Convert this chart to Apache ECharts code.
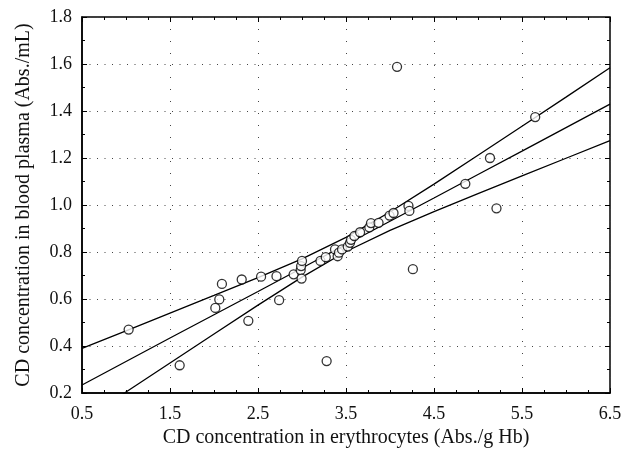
<!DOCTYPE html>
<html>
<head>
<meta charset="utf-8">
<script src="https://cdn.jsdelivr.net/npm/echarts@6/dist/echarts.min.js"></script>
<style>
  html, body { margin: 0; padding: 0; background: #fff; }
  #chart { width: 634px; height: 453px; }
</style>
</head>
<body>
<div id="chart"></div>
<script>
// measured points (erythrocytes vs plasma)
const pointsX = [1.03, 1.61, 2.015, 2.06, 2.09, 2.315, 2.39, 2.535, 2.71, 2.74,
  2.905, 2.985, 2.99, 3.0, 2.995, 3.21, 3.27, 3.28, 3.375, 3.405,
  3.42, 3.455, 3.52, 3.545, 3.557, 3.595, 3.66, 3.765, 3.784, 3.87,
  3.995, 4.04, 4.21, 4.22, 4.26, 4.08, 4.856, 5.136, 5.21, 5.65]
const pointsY = [0.47, 0.318, 0.562, 0.598, 0.664, 0.683, 0.507, 0.695, 0.697, 0.595,
  0.705, 0.723, 0.740, 0.762, 0.687, 0.762, 0.778, 0.336, 0.811, 0.782,
  0.797, 0.811, 0.823, 0.839, 0.852, 0.868, 0.884, 0.905, 0.923, 0.924,
  0.955, 0.966, 0.996, 0.975, 0.727, 1.588, 1.090, 1.200, 0.986, 1.374]

// regression line and confidence band
const fitX = [0.5, 1.0, 1.5, 2.0, 2.5, 3.0, 3.5, 4.0, 4.5, 5.0, 5.5, 6.0, 6.5]
const fitMid = [0.234, 0.334, 0.434, 0.533, 0.632, 0.732, 0.832, 0.931, 1.030, 1.130, 1.229, 1.329, 1.429]
const fitUpper = [0.390, 0.464, 0.540, 0.615, 0.691, 0.771, 0.862, 0.970, 1.089, 1.212, 1.335, 1.459, 1.584]
const fitLower = [0.080, 0.204, 0.328, 0.451, 0.574, 0.693, 0.802, 0.892, 0.972, 1.048, 1.124, 1.199, 1.274]

const xTitle = 'CD concentration in erythrocytes (Abs./g Hb)'
const yTitle = 'CD concentration in blood plasma (Abs./mL)'

const font = 'Liberation Serif'
const chart = echarts.init(document.getElementById('chart'))

function pairs(xs, ys) {
  return xs.map((x, i) => [x, ys[i]])
}

function lineSeries(ys) {
  return {
    type: 'line',
    data: pairs(fitX, ys),
    showSymbol: false,
    clip: true,
    lineStyle: { color: '#000', width: 1.3 },
    silent: true,
    z: 2
  }
}

const tickStyle = { show: true, inside: true, length: 5, lineStyle: { color: '#000', width: 1 } }
const minorStyle = { show: true, length: 3, lineStyle: { color: '#000', width: 1 } }

chart.setOption({
  animation: false,
  grid: {
    left: 82, right: 24, top: 17, bottom: 60,
    show: true, borderColor: '#000', borderWidth: 1.5
  },
  xAxis: [{
    type: 'value', min: 0.5, max: 6.5, interval: 1,
    name: xTitle, nameLocation: 'middle', nameGap: 31,
    nameTextStyle: { fontFamily: font, fontSize: 20, color: '#111' },
    axisLine: { show: true, onZero: false, lineStyle: { color: '#000', width: 1.5 } },
    axisTick: tickStyle,
    minorTick: Object.assign({ splitNumber: 4 }, minorStyle),
    axisLabel: { fontFamily: font, fontSize: 18, color: '#111', margin: 12, formatter: v => v.toFixed(1) },
    splitLine: { show: true, lineStyle: { color: '#444', width: 1, type: [1, 11] } }
  }, {
    type: 'value', min: 0.5, max: 6.5, interval: 1, position: 'top',
    axisLine: { show: false },
    axisTick: tickStyle,
    minorTick: Object.assign({ splitNumber: 4 }, minorStyle),
    axisLabel: { show: false },
    splitLine: { show: false }
  }],
  yAxis: [{
    type: 'value', min: 0.2, max: 1.8, interval: 0.2,
    name: yTitle, nameLocation: 'middle', nameGap: 48,
    nameTextStyle: { fontFamily: font, fontSize: 20, color: '#111' },
    axisLine: { show: true, onZero: false, lineStyle: { color: '#000', width: 1.5 } },
    axisTick: tickStyle,
    minorTick: Object.assign({ splitNumber: 2 }, minorStyle),
    axisLabel: { fontFamily: font, fontSize: 18, color: '#111', margin: 10, formatter: v => v.toFixed(1) },
    splitLine: { show: true, lineStyle: { color: '#444', width: 1, type: [1, 6.5] } }
  }, {
    type: 'value', min: 0.2, max: 1.8, interval: 0.2, position: 'right',
    axisLine: { show: false },
    axisTick: tickStyle,
    minorTick: Object.assign({ splitNumber: 2 }, minorStyle),
    axisLabel: { show: false },
    splitLine: { show: false }
  }],
  series: [
    lineSeries(fitUpper),
    lineSeries(fitMid),
    lineSeries(fitLower),
    {
      type: 'scatter',
      data: pairs(pointsX, pointsY),
      symbol: 'circle',
      symbolSize: 9,
      itemStyle: { color: '#fff', borderColor: '#000', borderWidth: 1.3 },
      z: 3
    }
  ]
})
</script>
</body>
</html>
